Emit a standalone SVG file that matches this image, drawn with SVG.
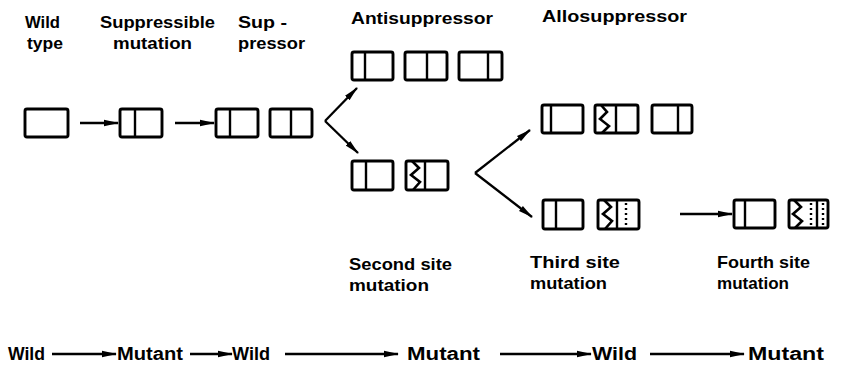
<svg xmlns="http://www.w3.org/2000/svg" width="841" height="370" viewBox="0 0 841 370">
  <style>
    .box { fill: none; stroke: #000; stroke-width: 2.9; stroke-linejoin: round; }
    .div { stroke: #000; stroke-width: 2.4; fill: none; }
    .zig { stroke: #000; stroke-width: 2.6; fill: none; stroke-linejoin: miter; }
    .dot { stroke: #000; stroke-width: 2.4; fill: none; stroke-dasharray: 2 3; }
    .lbl { font-family: "Liberation Sans", Arial, sans-serif; font-weight: bold; font-size: 17px; fill: #000; }
    .seq { font-family: "Liberation Sans", Arial, sans-serif; font-weight: bold; font-size: 18px; fill: #000; }
    .arr { stroke: #000; stroke-width: 2.3; fill: none; marker-end: url(#head); }
  </style>
  <defs>
    <marker id="head" markerUnits="userSpaceOnUse" markerWidth="15" markerHeight="8" refX="14" refY="4" orient="auto">
      <path d="M0,0.8 L15,4 L0,7.2 z" fill="#000"/>
    </marker>
  </defs>

  <rect width="841" height="370" fill="#fff"/>

  <!-- column headings -->
  <g id="labels">
    <text class="lbl" x="25" y="28" textLength="35" lengthAdjust="spacingAndGlyphs">Wild</text>
    <text class="lbl" x="27" y="49" textLength="36" lengthAdjust="spacingAndGlyphs">type</text>
    <text class="lbl" x="100" y="28" textLength="115" lengthAdjust="spacingAndGlyphs">Suppressible</text>
    <text class="lbl" x="113" y="49" textLength="79" lengthAdjust="spacingAndGlyphs">mutation</text>
    <text class="lbl" x="238" y="28" textLength="49" lengthAdjust="spacingAndGlyphs">Sup -</text>
    <text class="lbl" x="238" y="49" textLength="67" lengthAdjust="spacingAndGlyphs">pressor</text>
    <text class="lbl" x="351" y="24" textLength="142" lengthAdjust="spacingAndGlyphs">Antisuppressor</text>
    <text class="lbl" x="542" y="22" textLength="145" lengthAdjust="spacingAndGlyphs">Allosuppressor</text>
    <text class="lbl" x="349" y="270" textLength="103" lengthAdjust="spacingAndGlyphs">Second site</text>
    <text class="lbl" x="349" y="291" textLength="80" lengthAdjust="spacingAndGlyphs">mutation</text>
    <text class="lbl" x="530" y="268" textLength="90" lengthAdjust="spacingAndGlyphs">Third  site</text>
    <text class="lbl" x="530" y="289" textLength="77" lengthAdjust="spacingAndGlyphs">mutation</text>
    <text class="lbl" x="717" y="268" textLength="93" lengthAdjust="spacingAndGlyphs">Fourth site</text>
    <text class="lbl" x="717" y="289" textLength="72" lengthAdjust="spacingAndGlyphs">mutation</text>
  </g>

  <!-- wild type gene -->
  <g id="wild-type">
    <rect class="box" x="25" y="109" width="43" height="28" rx="2"/>
  </g>

  <!-- suppressible mutation -->
  <g id="suppressible">
    <rect class="box" x="120" y="109" width="42" height="28" rx="2"/>
    <line class="div" x1="135" y1="109" x2="135" y2="137"/>
  </g>

  <!-- suppressor pair -->
  <g id="suppressor">
    <rect class="box" x="216" y="109" width="42" height="28" rx="2"/>
    <line class="div" x1="230" y1="109" x2="230" y2="137"/>
    <rect class="box" x="270" y="109" width="42" height="28" rx="2"/>
    <line class="div" x1="291" y1="109" x2="291" y2="137"/>
  </g>

  <!-- antisuppressor triple -->
  <g id="antisuppressor">
    <rect class="box" x="352" y="52" width="41" height="28" rx="2"/>
    <line class="div" x1="365" y1="52" x2="365" y2="80"/>
    <rect class="box" x="405" y="52" width="42" height="28" rx="2"/>
    <line class="div" x1="427" y1="52" x2="427" y2="80"/>
    <rect class="box" x="459" y="52" width="43" height="28" rx="2"/>
    <line class="div" x1="488" y1="52" x2="488" y2="80"/>
  </g>

  <!-- second site mutation -->
  <g id="second-site">
    <rect class="box" x="352" y="161" width="41" height="29" rx="2"/>
    <line class="div" x1="366" y1="161" x2="366" y2="190"/>
    <rect class="box" x="406" y="161" width="42" height="29" rx="2"/>
    <polyline class="zig" points="412,161 419,168 411,175 420,182 413,190"/>
    <line class="div" x1="425" y1="161" x2="425" y2="190"/>
  </g>

  <!-- allosuppressor triple -->
  <g id="allosuppressor">
    <rect class="box" x="542" y="105" width="41" height="28" rx="2"/>
    <line class="div" x1="551" y1="105" x2="551" y2="133"/>
    <rect class="box" x="595" y="105" width="43" height="28" rx="2"/>
    <polyline class="zig" points="601,105 607,112 600,119 609,126 602,133"/>
    <line class="div" x1="616" y1="105" x2="616" y2="133"/>
    <rect class="box" x="652" y="105" width="40" height="28" rx="2"/>
    <line class="div" x1="678" y1="105" x2="678" y2="133"/>
  </g>

  <!-- third site mutation -->
  <g id="third-site">
    <rect class="box" x="543" y="200" width="40" height="29" rx="2"/>
    <line class="div" x1="556" y1="200" x2="556" y2="229"/>
    <rect class="box" x="598" y="200" width="41" height="29" rx="2"/>
    <polyline class="zig" points="604,200 611,207 603,214 612,221 605,229"/>
    <line class="div" x1="617" y1="200" x2="617" y2="229"/>
    <line class="dot" x1="626" y1="203" x2="626" y2="227"/>
  </g>

  <!-- fourth site mutation -->
  <g id="fourth-site">
    <rect class="box" x="734" y="200" width="41" height="28" rx="2"/>
    <line class="div" x1="745" y1="200" x2="745" y2="228"/>
    <rect class="box" x="789" y="200" width="39" height="28" rx="2"/>
    <polyline class="zig" points="794,200 801,207 793,214 802,221 795,228"/>
    <line class="dot" x1="811" y1="203" x2="811" y2="226"/>
    <line class="div" x1="817" y1="200" x2="817" y2="228"/>
    <line class="dot" x1="823" y1="203" x2="823" y2="226"/>
  </g>

  <!-- connectors -->
  <g id="connectors">
    <line class="arr" x1="80" y1="123" x2="118" y2="123"/>
    <line class="arr" x1="175" y1="123" x2="214" y2="123"/>
    <line class="arr" x1="325" y1="121" x2="357" y2="88"/>
    <line class="arr" x1="325" y1="121" x2="358" y2="153"/>
    <line class="arr" x1="475" y1="173" x2="530" y2="130"/>
    <line class="arr" x1="475" y1="173" x2="532" y2="217"/>
    <line class="arr" x1="680" y1="214" x2="732" y2="214"/>
  </g>

  <!-- wild / mutant sequence -->
  <g id="sequence">
    <text class="seq" x="8" y="360" textLength="37" lengthAdjust="spacingAndGlyphs">Wild</text>
    <line class="arr" x1="52" y1="354" x2="116" y2="354"/>
    <text class="seq" x="117" y="360" textLength="66" lengthAdjust="spacingAndGlyphs">Mutant</text>
    <line class="arr" x1="190" y1="354" x2="232" y2="354"/>
    <text class="seq" x="232" y="360" textLength="38" lengthAdjust="spacingAndGlyphs">Wild</text>
    <line class="arr" x1="285" y1="354" x2="398" y2="354"/>
    <text class="seq" x="407" y="360" textLength="73" lengthAdjust="spacingAndGlyphs">Mutant</text>
    <line class="arr" x1="500" y1="354" x2="591" y2="354"/>
    <text class="seq" x="592" y="360" textLength="45" lengthAdjust="spacingAndGlyphs">Wild</text>
    <line class="arr" x1="650" y1="354" x2="744" y2="354"/>
    <text class="seq" x="748" y="360" textLength="76" lengthAdjust="spacingAndGlyphs">Mutant</text>
  </g>
</svg>
